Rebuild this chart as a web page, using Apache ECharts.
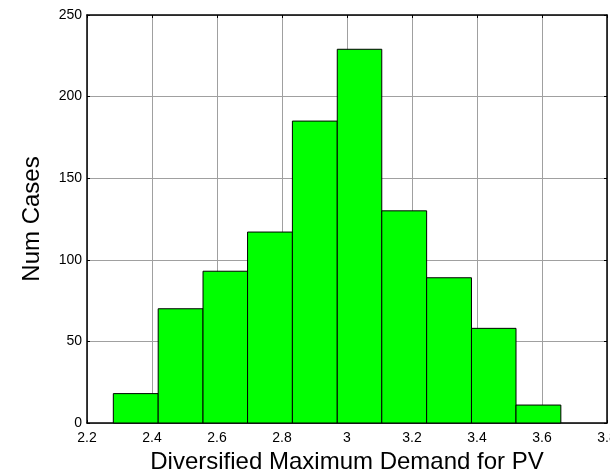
<!DOCTYPE html>
<html>
<head>
<meta charset="utf-8">
<script src="https://cdn.jsdelivr.net/npm/echarts@6/dist/echarts.min.js"></script>
<style>
html,body{margin:0;padding:0;background:#fff;}
#chart{width:610px;height:470px;}
</style>
</head>
<body>
<div id="chart"></div>
<script>
// Histogram bin edges (x) and counts (y)
var binEdges = [2.281, 2.419, 2.557, 2.694, 2.832, 2.970, 3.107, 3.245, 3.383, 3.520, 3.658];
var counts = [18, 70, 93, 117, 185, 229, 130, 89, 58, 11];
var xTicks = [2.2, 2.4, 2.6, 2.8, 3, 3.2, 3.4, 3.6, 3.8];
var yTicks = [0, 50, 100, 150, 200, 250];
var xLabel = 'Diversified Maximum Demand for PV';
var yLabel = 'Num Cases';

var barData = counts.map(function (c, i) { return [binEdges[i], binEdges[i + 1], c]; });

var font = 'Arial, "Liberation Sans", sans-serif';
var gridColor = '#a0a0a0';

var chart = echarts.init(document.getElementById('chart'), null, {renderer: 'canvas'});
var xMin = xTicks[0], xMax = xTicks[xTicks.length - 1];
var yMin = yTicks[0], yMax = yTicks[yTicks.length - 1];
var commonTick = {show: true, inside: true, length: 3, lineStyle: {color: '#000', width: 1}};
chart.setOption({
  animation: false,
  backgroundColor: '#fff',
  grid: {left: 87, right: 3, top: 15, bottom: 47, containLabel: false, outerBoundsMode: 'none'},
  xAxis: [{
    type: 'value', min: xMin, max: xMax, interval: 0.2,
    name: xLabel, nameLocation: 'middle', nameGap: 22,
    nameTextStyle: {fontFamily: font, fontSize: 24, color: '#000'},
    axisLine: {show: true, onZero: false, lineStyle: {color: '#000', width: 1.5}},
    axisTick: commonTick,
    axisLabel: {fontFamily: font, fontSize: 14, color: '#000', margin: 8, hideOverlap: false,
      formatter: function (v) { return String(Math.round(v * 10) / 10); }},
    splitLine: {show: true, lineStyle: {color: gridColor, width: 1}}
  }, {
    type: 'value', position: 'top', min: xMin, max: xMax, interval: 0.2,
    axisLine: {show: true, onZero: false, lineStyle: {color: '#000', width: 1.5}},
    axisTick: commonTick, axisLabel: {show: false}, splitLine: {show: false}
  }],
  yAxis: [{
    type: 'value', min: yMin, max: yMax, interval: 50,
    name: yLabel, nameLocation: 'middle', nameGap: 43, nameRotate: 90,
    nameTextStyle: {fontFamily: font, fontSize: 24, color: '#000'},
    axisLine: {show: true, onZero: false, lineStyle: {color: '#000', width: 1.5}},
    axisTick: commonTick,
    axisLabel: {fontFamily: font, fontSize: 14, color: '#000', margin: 5},
    splitLine: {show: true, lineStyle: {color: gridColor, width: 1}}
  }, {
    type: 'value', position: 'right', min: yMin, max: yMax, interval: 50,
    axisLine: {show: true, onZero: false, lineStyle: {color: '#000', width: 1.5}},
    axisTick: commonTick, axisLabel: {show: false}, splitLine: {show: false}
  }],
  series: [{
    type: 'custom',
    xAxisIndex: 0, yAxisIndex: 0,
    data: barData,
    encode: {x: [0, 1], y: 2},
    renderItem: function (params, api) {
      var p0 = api.coord([api.value(0), 0]);
      var p1 = api.coord([api.value(1), api.value(2)]);
      return {
        type: 'rect',
        shape: {x: p0[0], y: p1[1], width: p1[0] - p0[0], height: p0[1] - p1[1]},
        style: {fill: '#00ff00', stroke: '#000', lineWidth: 1}
      };
    }
  }]
});
</script>
</body>
</html>
